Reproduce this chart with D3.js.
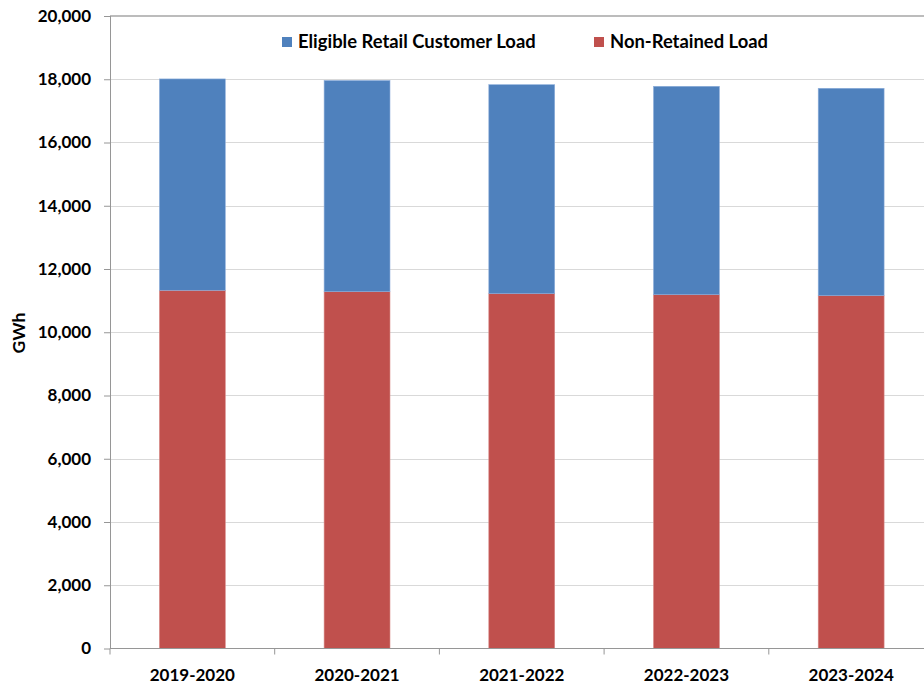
<!DOCTYPE html>
<html>
<head>
<meta charset="utf-8">
<script src="https://cdn.jsdelivr.net/npm/d3@7"></script>
<style>
  html, body { margin: 0; padding: 0; background: #fff; }
  svg { display: block; }
  text { font-family: Lato, "Open Sans", sans-serif; font-weight: bold; fill: #000; }
</style>
</head>
<body>
<svg id="chart" width="924" height="685"></svg>
<script>
const categories = ["2019-2020", "2020-2021", "2021-2022", "2022-2023", "2023-2024"];
const nonRetained = [11327, 11282, 11219, 11187, 11156];
const eligibleRetail = [6683, 6678, 6609, 6590, 6558];
const seriesNames = ["Eligible Retail Customer Load", "Non-Retained Load"];
const seriesColors = ["#4F81BD", "#C0504D"];
const yTicks = [0, 2000, 4000, 6000, 8000, 10000, 12000, 14000, 16000, 18000, 20000];
const yLabel = "GWh";

const svg = d3.select("#chart");
const plotLeft = 110, plotTop = 16, plotBottom = 648.5, step = 164.7;
const plotRight = plotLeft + step * categories.length;

const x = d3.scaleBand().domain(categories).range([plotLeft, plotRight]).paddingInner(0.6).paddingOuter(0.3);
const y = d3.scaleLinear().domain([0, 20000]).range([plotBottom, plotTop]);

// gridlines
svg.append("g").selectAll("line").data(yTicks.filter(t => t > 0 && t < 20000)).join("line")
  .attr("x1", plotLeft).attr("x2", plotRight)
  .attr("y1", d => Math.round(y(d)) + 0.5).attr("y2", d => Math.round(y(d)) + 0.5)
  .attr("stroke", "#d9d9d9").attr("stroke-width", 1);
// top line
svg.append("line").attr("x1", plotLeft).attr("x2", plotRight)
  .attr("y1", y(20000)).attr("y2", y(20000))
  .attr("stroke", "#a6a6a6").attr("stroke-width", 1.5);

// stacked data
const rows = categories.map((c, i) => ({ cat: c, nr: nonRetained[i], er: eligibleRetail[i] }));
const stack = d3.stack().keys(["nr", "er"])(rows);
const colorByKey = { nr: seriesColors[1], er: seriesColors[0] };
const strokeByKey = { nr: "#d88a88", er: "#8eaedb" };

svg.append("g").selectAll("g").data(stack).join("g")
  .attr("fill", d => colorByKey[d.key])
  .selectAll("rect").data(d => d.map(v => Object.assign(v, { key: d.key }))).join("rect")
  .attr("x", d => x(d.data.cat))
  .attr("width", x.bandwidth())
  .attr("y", d => y(d[1]))
  .attr("height", d => y(d[0]) - y(d[1]))
  .attr("stroke", d => strokeByKey[d.key])
  .attr("stroke-width", 0.6);

// y axis
const yAxis = d3.axisLeft(y).tickValues(yTicks).tickFormat(d3.format(",")).tickSize(6).tickPadding(13);
const gy = svg.append("g").attr("transform", `translate(${plotLeft},0)`).call(yAxis);
gy.select(".domain").attr("stroke", "#969696").attr("d", `M0.5,${plotTop}V${plotBottom}`);
gy.selectAll(".tick line").attr("stroke", "#969696");
gy.selectAll(".tick text").attr("font-size", 17).attr("font-family", "Lato, sans-serif").attr("font-weight", "bold").attr("fill", "#000");

// x axis
const gx = svg.append("g").attr("transform", `translate(0,${plotBottom})`);
gx.append("line").attr("x1", plotLeft).attr("x2", plotRight).attr("y1", 0).attr("y2", 0).attr("stroke", "#969696");
gx.selectAll("line.tk").data(d3.range(categories.length + 1)).join("line").attr("class", "tk")
  .attr("x1", i => plotLeft + i * step).attr("x2", i => plotLeft + i * step)
  .attr("y1", 0).attr("y2", 6).attr("stroke", "#969696");
gx.selectAll("text").data(categories).join("text")
  .attr("x", d => x(d) + x.bandwidth() / 2).attr("y", 32)
  .attr("text-anchor", "middle").attr("font-size", 17).text(d => d);

// y label
svg.append("text").attr("transform", "translate(25,333) rotate(-90)")
  .attr("text-anchor", "middle").attr("font-size", 17.5).text(yLabel);

// legend
const legend = [
  { name: seriesNames[0], color: seriesColors[0], x: 282 },
  { name: seriesNames[1], color: seriesColors[1], x: 594 }
];
const lg = svg.append("g").selectAll("g").data(legend).join("g")
  .attr("transform", d => `translate(${d.x},37)`);
lg.append("rect").attr("width", 10).attr("height", 10).attr("fill", d => d.color);
lg.append("text").attr("x", 16).attr("y", 11).attr("font-size", 18.4).text(d => d.name);
</script>
</body>
</html>
